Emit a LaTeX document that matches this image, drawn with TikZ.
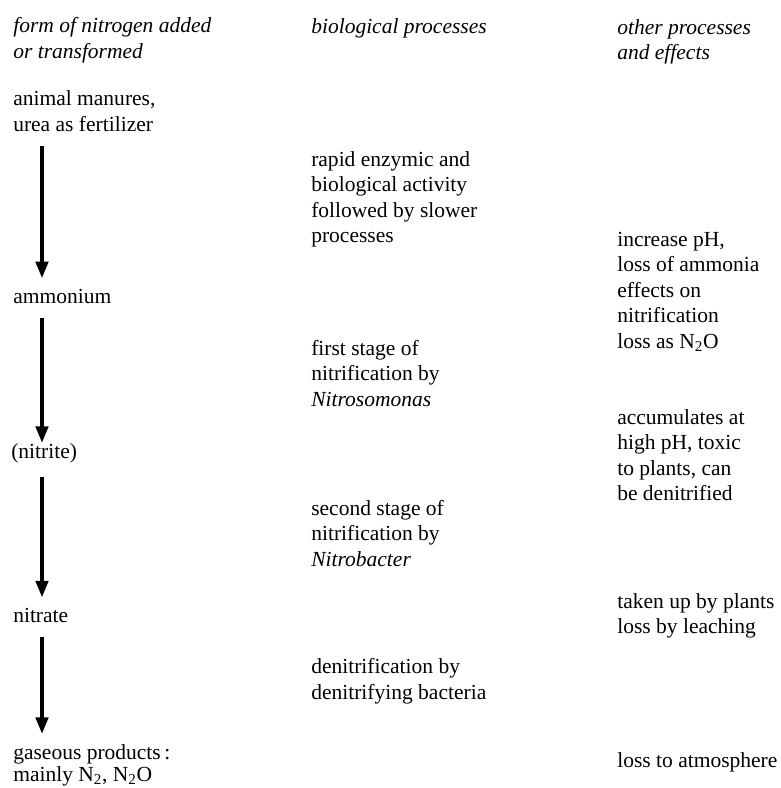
\documentclass[tikz,border=0pt]{standalone}
\usepackage{fontspec}
\setmainfont{Liberation Serif}
\usetikzlibrary{arrows.meta}

\tikzset{
    txt/.style={anchor=west, align=left, inner sep=0pt,
        font=\fontsize{15.3}{18.1}\selectfont},
    hdr/.style={txt, font=\fontsize{15.3}{18.1}\selectfont\itshape},
    flow/.style={line width=3.2pt, -{Triangle[width=0.3cm,length=0.42cm]},
        shorten <=0.35cm, shorten >=0.25cm}
}

\begin{document}
\begin{tikzpicture}

            \useasboundingbox (0,0) rectangle (19.5,-19.7);

            % column heads
            \node[hdr] (formHdr) at (0.325,-1.01) {form of nitrogen added\\or transformed};
            \node[hdr] (bioHdr) at (7.775,-0.70) {biological processes};
            \node[hdr] (otherHdr) at (15.425,-1.05) {other processes\\and effects};

            % forms of nitrogen
            \coordinate (axis) at (1.05,0);
            \node[txt] (manure) at (0.325,-2.78) {animal manures,\\urea as fertilizer};
            \node[txt] (ammonium) at (0.325,-7.40) {ammonium};
            \node[txt] (nitrite) at (0.275,-11.33) {(nitrite)};
            \node[txt] (nitrate) at (0.325,-15.38) {nitrate};
            \node[txt, font=\fontsize{15.3}{15.5}\selectfont] (gases) at (0.325,-19.13)
                {gaseous products\,:\\mainly N\textsubscript{2}, N\textsubscript{2}O};

            \draw[flow] (manure.south -| axis) -- (ammonium.north -| axis);
            \draw[flow, shorten >=0cm] (ammonium.south -| axis) -- (nitrite.north -| axis);
            \draw[flow] (nitrite.south -| axis) -- (nitrate.north -| axis);
            \draw[flow] (nitrate.south -| axis) -- (gases.north -| axis);

            % biological processes
            \node[txt] (rapid) at (7.775,-4.98) {rapid enzymic and\\biological activity\\followed by slower\\processes};
            \node[txt] (firstStage) at (7.775,-9.33) {first stage of\\nitrification by\\\textit{Nitrosomonas}};
            \node[txt] (secondStage) at (7.775,-13.33) {second stage of\\nitrification by\\\textit{Nitrobacter}};
            \node[txt] (denit) at (7.775,-17.03) {denitrification by\\denitrifying bacteria};

            % other processes and effects
            \node[txt] (ammLoss) at (15.425,-7.29) {increase pH,\\loss of ammonia\\effects on\\nitrification\\loss as N\textsubscript{2}O};
            \node[txt] (accum) at (15.425,-11.38) {accumulates at\\high pH, toxic\\to plants, can\\be denitrified};
            \node[txt] (leach) at (15.425,-15.39) {taken up by plants\\loss by leaching};
            \node[txt] (atmos) at (15.425,-19.05) {loss to atmosphere};
        \end{tikzpicture}
\end{document}
